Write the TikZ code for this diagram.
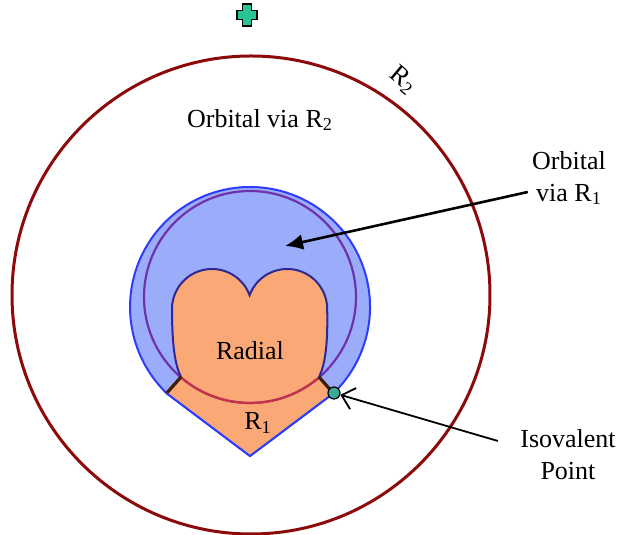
\documentclass[tikz,border=0pt]{standalone}
\usepackage{fontspec}
\setmainfont{Liberation Serif}
\usepackage{tikz}
\usetikzlibrary{arrows.meta, positioning}
\definecolor{ringred}{RGB}{140,10,10}
\definecolor{markgreen}{RGB}{40,196,150}
\definecolor{blobblue}{RGB}{155,172,250}
\definecolor{blobedge}{RGB}{45,60,250}
\definecolor{heartorange}{RGB}{250,168,118}
\definecolor{heartedge}{RGB}{45,40,150}
\definecolor{rimpurple}{RGB}{110,50,170}
\definecolor{rimcrimson}{RGB}{200,50,70}
\definecolor{seamdark}{RGB}{60,30,10}
\definecolor{isoteal}{RGB}{60,170,150}

\begin{document}
\begin{tikzpicture}[
  x=0.5pt, y=0.5pt,
  lbl/.style={font=\fontsize{13}{16}\selectfont, align=center, inner sep=1pt},
  ring/.style={draw=ringred, line width=1.5pt},
  rim/.style={line width=1.1pt},
  seam/.style={draw=seamdark, line width=1.6pt},
  isopt/.style={circle, draw=black, fill=isoteal, line width=0.6pt,
                minimum size=6pt, inner sep=0pt},
  ptr/.style={-{Latex[length=9pt,width=8pt]}, line width=1.3pt, black},
  thinptr/.style={-{Straight Barb[length=6pt,width=11pt]}, line width=0.9pt, black}
]
\useasboundingbox (0,0) rectangle (618,535);
%% Outer ring and marker
\draw[ring] (251,240) circle (239);
\draw[fill=markgreen, line width=0.8pt] (242.5,509) -- (251.5,509) -- (251.5,515.5)
  -- (257,515.5) -- (257,524.5) -- (251.5,524.5) -- (251.5,531) -- (242.5,531)
  -- (242.5,524.5) -- (237,524.5) -- (237,515.5) -- (242.5,515.5) -- cycle;
%% Blue blob
\draw[fill=blobblue, draw=blobedge, line width=1pt]
  (333.4,141.7) arc[start angle=-46, end angle=226, radius=120] -- (250,79) -- cycle;
%% Orange heart
\def\heartpath{(250,240) arc[start angle=20, end angle=180, radius=40]
  .. controls (172,190) and (175,170) .. (181,158) -- (166.6,141.7) -- (250,79)
  -- (333.4,141.7) -- (319,158) .. controls (325,170) and (328,190) .. (328,226)
  arc[start angle=0, end angle=160, radius=40] -- cycle}
\fill[heartorange] \heartpath;
%% Rim circle
\draw[rim, draw=rimpurple] (250,238) circle (106);
\begin{scope}
  \clip \heartpath;
  \draw[rim, draw=rimcrimson] (250,238) circle (106);
\end{scope}
%% Heart outline and seams
\draw[draw=heartedge, line width=1pt] (181,158) .. controls (175,170) and (172,190) .. (172,226)
  arc[start angle=180, end angle=20, radius=40]
  arc[start angle=160, end angle=0, radius=40]
  .. controls (328,190) and (325,170) .. (319,158);
\draw[seam] (181,158) -- (166.6,141.7);
\draw[seam] (319,158) -- (333.4,141.7);
\draw[draw=blobedge, line width=1pt] (166.6,141.7) -- (250,79) -- (333.4,141.7);
%% Labels
\node[lbl] (orbR2) at (260,415) {Orbital via R\textsubscript{2}};
\node[lbl] (radial) at (250,184) {Radial};
\node[lbl] (rOne) at (258,112) {R\textsubscript{1}};
\node[lbl, rotate=-40] (rTwo) at (403,455) {R\textsubscript{2}};
\node[lbl] (orbR1) at (569,357) {Orbital\\via R\textsubscript{1}};
\node[lbl] (isoLbl) at (568,80) {Isovalent\\Point};
%% Isovalent point and pointers
\node[isopt] (iso) at (334,142) {};
\coordinate (orbTip) at (285,289);
\draw[ptr] ([xshift=-1pt,yshift=-7pt]orbR1.west) -- (orbTip);
\draw[thinptr] ([xshift=-10pt,yshift=7pt]isoLbl.west) -- (iso);
\end{tikzpicture}
\end{document}
